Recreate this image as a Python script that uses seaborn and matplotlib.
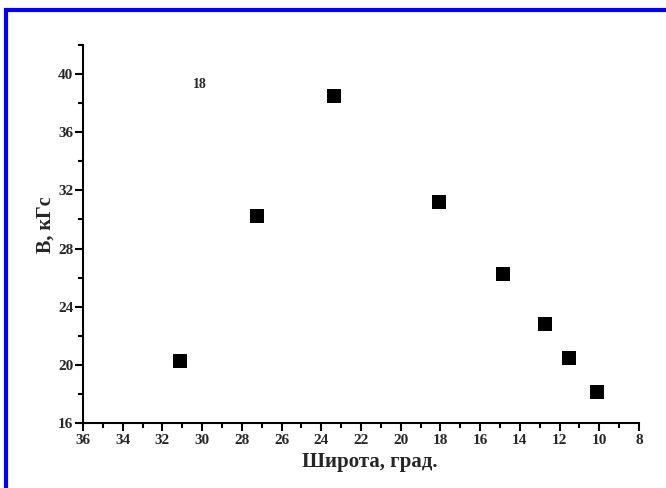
import matplotlib
matplotlib.use("Agg")
import matplotlib.pyplot as plt
import seaborn as sns
import pandas as pd
from matplotlib.lines import Line2D
from matplotlib.ticker import MultipleLocator

latitude = [31.1, 27.25, 23.35, 18.05, 14.85, 12.75, 11.5, 10.1]
field_kgs = [20.25, 30.25, 38.5, 31.2, 26.25, 22.8, 20.45, 18.15]
x_ticks = list(range(36, 7, -2))
y_ticks = [16, 20, 24, 28, 32, 36, 40]
annotation = "18"

sns.set_theme(style="white")
plt.rcParams['font.family'] = ['Liberation Serif', 'DejaVu Serif']
plt.rcParams['font.weight'] = 'bold'

df = pd.DataFrame({"lat": latitude, "B": field_kgs})

fig = plt.figure(figsize=(6.66, 4.88), dpi=100)
ax = fig.add_axes([83/666, 1-423/488, (639-83)/666, (423-45)/488])
sns.scatterplot(data=df, x="lat", y="B", marker="s", s=110, color="black",
                edgecolor="black", linewidth=0, ax=ax, legend=False)

ax.set_xlim(36, 8)
ax.set_ylim(16, 42)
ax.set_xticks(x_ticks)
ax.set_yticks(y_ticks)
ax.xaxis.set_minor_locator(MultipleLocator(1))
ax.yaxis.set_minor_locator(MultipleLocator(2))
ax.tick_params(axis='both', which='major', direction='out', length=6, width=1.5,
               labelsize=11, pad=1, color='black', bottom=True, left=True)
ax.tick_params(axis='x', which='major', pad=2)
ax.tick_params(axis='both', which='minor', direction='out', length=3.5, width=1.5,
               color='black', bottom=True, left=True)
for lab in ax.get_xticklabels() + ax.get_yticklabels():
    lab.set_fontweight('bold')
for side in ['top', 'right']:
    ax.spines[side].set_visible(False)
for side in ['left', 'bottom']:
    ax.spines[side].set_color('black')
    ax.spines[side].set_linewidth(1.5)

ax.set_xlabel("Широта, град.", fontsize=15, fontweight='bold')
ax.set_ylabel("B, кГс", fontsize=14.5, fontweight='bold')
ax.xaxis.set_label_coords(0.516, -0.103)
ax.yaxis.set_label_coords(-0.0665, 0.524)
ax.xaxis.label.set_verticalalignment('center')
ax.yaxis.label.set_verticalalignment('center')

ax.text(30.1, 39.3, annotation, fontsize=10, fontweight='bold', ha='center', va='center')

# blue frame (top and left)
fig.add_artist(Line2D([4/666, 1.0], [1-10/488, 1-10/488], transform=fig.transFigure,
                      color='#0000ff', linewidth=3, solid_capstyle='butt'))
fig.add_artist(Line2D([6/666, 6/666], [0, 1-8/488], transform=fig.transFigure,
                      color='#0000ff', linewidth=3, solid_capstyle='butt'))

fig.savefig("out.png", dpi=100)
